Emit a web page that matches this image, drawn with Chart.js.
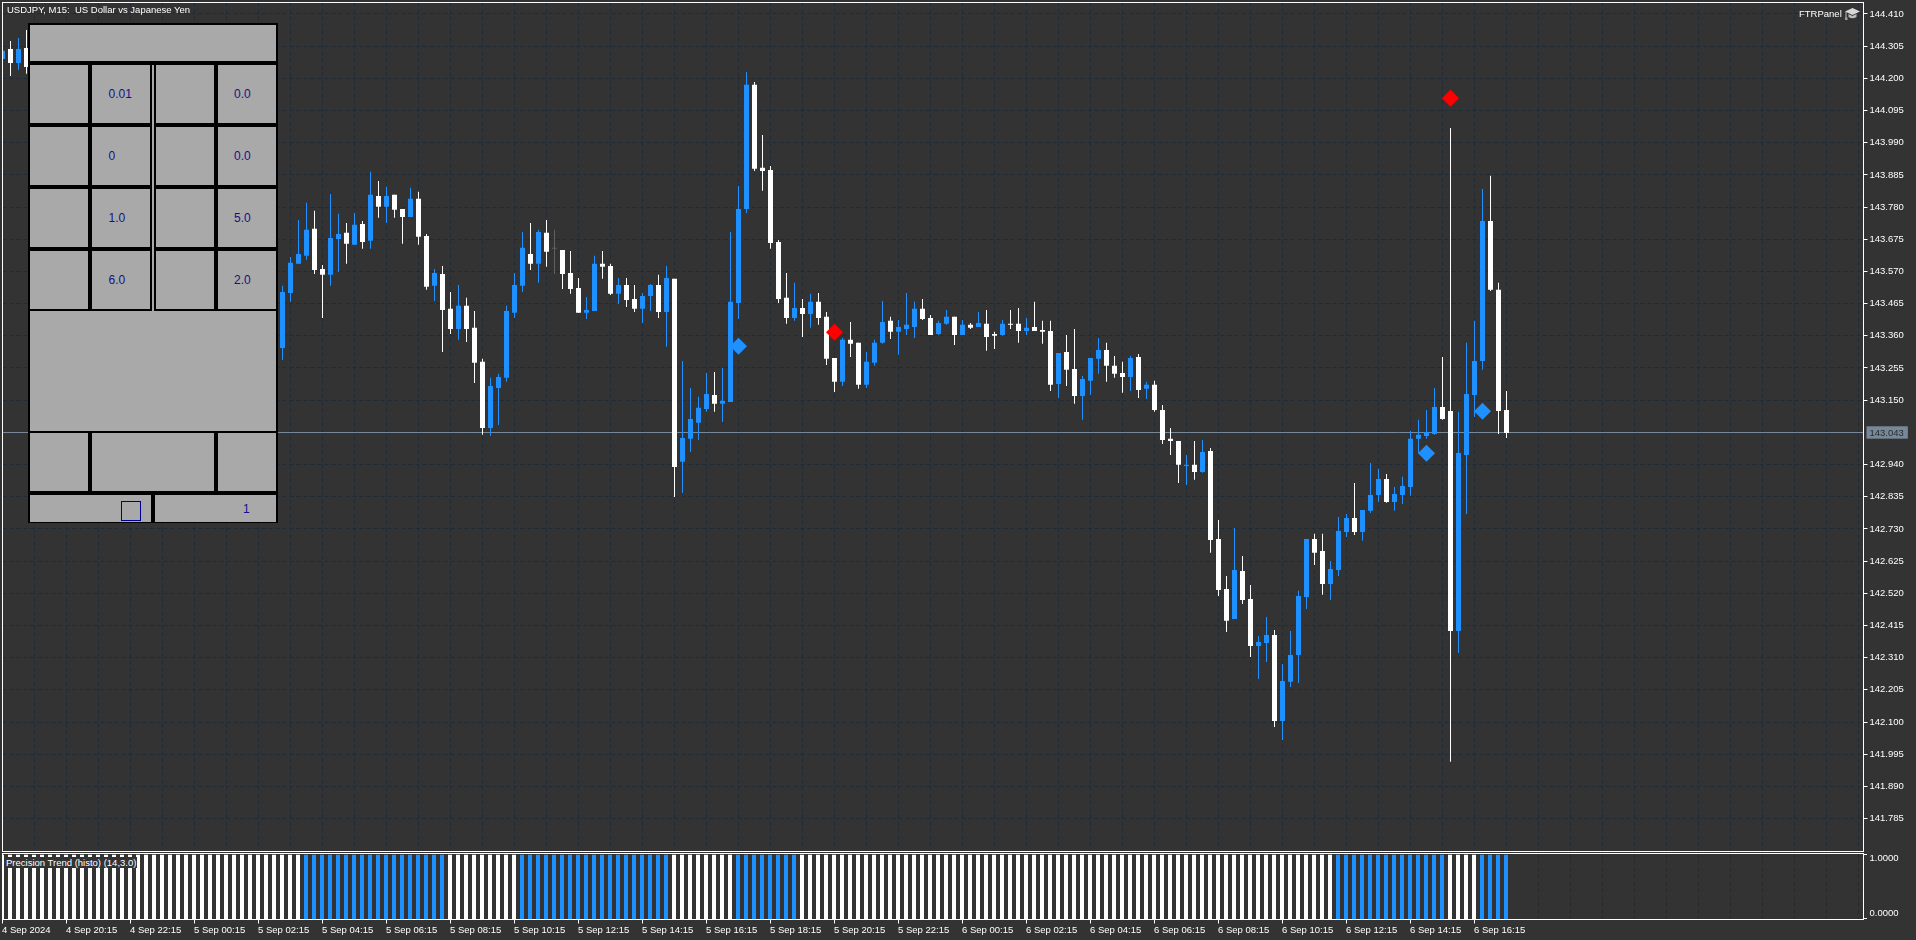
<!DOCTYPE html>
<html>
<head>
<meta charset="utf-8">
<title>USDJPY, M15</title>
<style>
  html, body { margin: 0; padding: 0; background: #333333; width: 1916px; height: 940px; overflow: hidden; }
  canvas { position: absolute; left: 0; }
  #price-chart { top: 0; }
  #trend-chart { top: 852px; }
  .label { position: absolute; color: #fff; font: 9.5px 'Liberation Sans', sans-serif; white-space: pre; line-height: 11px; }
  #panel { position: absolute; left: 28px; top: 23px; width: 250px; height: 500px; background: #000; }
  #panel div { position: absolute; background: #a9a9a9; }
  #panel span { position: absolute; color: #14108a; font: 12px 'Liberation Sans', sans-serif; line-height: 14px; }
  #panel .check { background: none; border: 1px solid #000090; box-sizing: border-box; }
</style>
</head>
<body>
<canvas id="price-chart" width="1916" height="852"></canvas>
<canvas id="trend-chart" width="1916" height="88"></canvas>

<div class="label" style="left:7px;top:4px">USDJPY, M15:  US Dollar vs Japanese Yen</div>
<div class="label" style="left:1799px;top:8px">FTRPanel</div>
<svg style="position:absolute;left:1845px;top:8px" width="15" height="12" viewBox="0 0 15 12">
  <path d="M7.5 0 L15 3.5 L7.5 7 L0 3.5 Z" fill="#d8d8d8"/>
  <path d="M3.5 6 L3.5 9 Q7.5 11.5 11.5 9 L11.5 6 L7.5 8 Z" fill="#bdbdbd"/>
  <rect x="0.5" y="4" width="1" height="6" fill="#bdbdbd"/>
  <rect x="0" y="9.5" width="2.5" height="2.5" fill="#a0a0a0"/>
</svg>
<div class="label" style="left:4px;top:857px;padding:0 1px 0 2px;background:#333333">Precision Trend (histo) (14,3.0)</div>

<div id="panel"></div>

<script src="https://cdn.jsdelivr.net/npm/chart.js@4/dist/chart.umd.min.js"></script>
<script>
'use strict';

// ──────────────────────────────────────────────────────────────
//  Data. Bars 4-34 sit behind the panel.
// ──────────────────────────────────────────────────────────────
const opens = [
  144.263,144.296,144.250,144.299,
  null,null,null,null,null,null,null,null,null,null,null,null,null,null,null,null,
  null,null,null,null,null,null,null,null,null,null,null,null,null,null,null,
  143.320,143.500,143.595,143.621,143.709,143.578,143.559,143.676,143.696,143.657,
  143.725,143.670,143.816,143.781,143.820,143.774,143.748,143.807,143.686,143.523,
  143.562,143.448,143.382,143.458,143.386,143.275,143.059,143.190,143.223,143.435,
  143.523,143.627,143.595,143.696,143.644,143.640,143.565,143.516,143.435,143.441,
  143.595,143.588,143.497,143.526,143.480,143.448,143.490,143.526,143.438,143.546,
  142.949,143.024,143.076,143.121,143.167,143.138,143.144,143.467,143.774,144.179,
  143.908,143.901,143.666,143.484,143.418,143.451,143.431,143.471,143.422,143.288,
  143.210,143.347,143.337,143.200,143.272,143.337,143.409,143.373,143.382,143.389,
  143.448,143.418,143.366,143.399,143.422,143.363,143.396,143.389,143.399,143.366,
  143.363,143.399,143.399,143.376,143.389,143.379,143.376,143.203,143.307,143.252,
  143.164,143.213,143.285,143.314,143.262,143.239,143.226,143.291,143.187,143.200,
  143.118,143.024,143.017,142.935,142.939,142.916,142.984,142.697,142.534,142.436,
  142.593,142.501,142.348,142.358,142.384,142.103,142.231,142.319,142.508,142.697,
  142.658,142.550,142.596,142.720,142.766,142.720,142.789,142.841,142.893,142.818,
  142.841,142.867,143.024,143.033,143.040,143.128,143.115,142.397,142.971,143.167,
  143.278,143.735,143.510,143.118
];
const highs = [
  144.290,144.322,144.332,144.358,
  null,null,null,null,null,null,null,null,null,null,null,null,null,null,null,null,
  null,null,null,null,null,null,null,null,null,null,null,null,null,null,null,
  143.523,143.617,143.738,143.794,143.768,143.591,143.823,143.758,143.728,143.761,
  143.735,143.895,143.865,143.846,143.820,143.774,143.843,143.830,143.692,143.578,
  143.588,143.503,143.526,143.484,143.441,143.285,143.223,143.236,143.458,143.565,
  143.699,143.728,143.706,143.738,143.706,143.640,143.637,143.549,143.487,143.621,
  143.637,143.595,143.549,143.549,143.526,143.500,143.529,143.559,143.588,143.546,
  143.278,143.190,143.161,143.239,143.242,143.255,143.699,143.849,144.221,144.188,
  144.015,143.914,143.673,143.565,143.533,143.480,143.497,143.500,143.438,143.288,
  143.353,143.405,143.337,143.307,143.347,143.474,143.422,143.412,143.500,143.471,
  143.480,143.428,143.409,143.444,143.422,143.412,143.402,143.438,143.444,143.373,
  143.412,143.444,143.451,143.418,143.471,143.409,143.409,143.304,143.363,143.382,
  143.229,143.288,143.353,143.337,143.294,143.275,143.294,143.301,143.210,143.213,
  143.134,143.059,143.017,142.971,143.017,143.020,142.994,142.759,142.576,142.733,
  142.642,142.547,142.381,142.443,142.400,142.289,142.397,142.528,142.697,142.714,
  142.714,142.625,142.769,142.779,142.880,142.792,142.945,142.926,142.909,142.867,
  142.900,143.050,143.086,143.118,143.190,143.291,144.038,143.112,143.337,143.409,
  143.839,143.882,143.533,143.180
];
const lows = [
  144.263,144.208,144.228,144.215,
  null,null,null,null,null,null,null,null,null,null,null,null,null,null,null,null,
  null,null,null,null,null,null,null,null,null,null,null,null,null,null,null,
  143.281,143.471,143.595,143.608,143.562,143.418,143.523,143.568,143.595,143.657,
  143.644,143.644,143.745,143.728,143.745,143.660,143.748,143.657,143.510,143.474,
  143.307,143.366,143.347,143.340,143.206,143.037,143.033,143.069,143.210,143.418,
  143.503,143.575,143.533,143.585,143.562,143.513,143.497,143.435,143.415,143.441,
  143.546,143.493,143.464,143.454,143.438,143.402,143.441,143.418,143.324,142.834,
  142.847,142.981,143.020,143.112,143.112,143.079,143.144,143.415,143.761,143.898,
  143.833,143.644,143.467,143.399,143.409,143.356,143.386,143.396,143.265,143.177,
  143.196,143.291,143.187,143.190,143.262,143.334,143.350,143.298,143.363,143.353,
  143.412,143.363,143.363,143.396,143.330,143.363,143.382,143.389,143.311,143.317,
  143.360,143.382,143.337,143.363,143.376,143.334,143.180,143.157,143.196,143.138,
  143.086,143.167,143.236,143.210,143.223,143.174,143.180,143.157,143.154,143.112,
  143.007,142.971,142.880,142.873,142.890,142.913,142.652,142.511,142.394,142.436,
  142.485,142.312,142.240,142.296,142.084,142.041,142.214,142.227,142.469,142.612,
  142.515,142.498,142.576,142.704,142.710,142.691,142.782,142.818,142.815,142.789,
  142.811,142.838,142.978,143.024,143.037,143.086,141.970,142.325,142.779,143.095,
  143.249,143.506,143.040,143.027
];
const closes = [
  144.290,144.250,144.296,144.237,
  null,null,null,null,null,null,null,null,null,null,null,null,null,null,null,null,
  null,null,null,null,null,null,null,null,null,null,null,null,null,null,null,
  143.503,143.598,143.627,143.706,143.575,143.559,143.679,143.692,143.660,143.722,
  143.666,143.820,143.781,143.816,143.771,143.748,143.807,143.683,143.520,143.565,
  143.444,143.382,143.458,143.382,143.272,143.059,143.196,143.226,143.441,143.526,
  143.647,143.595,143.699,143.634,143.644,143.562,143.513,143.435,143.444,143.595,
  143.585,143.497,143.526,143.477,143.448,143.490,143.526,143.438,143.549,142.932,
  143.027,143.089,143.125,143.170,143.138,143.148,143.471,143.774,144.179,143.905,
  143.898,143.663,143.480,143.418,143.451,143.431,143.471,143.418,143.285,143.210,
  143.347,143.334,143.200,143.275,143.337,143.405,143.373,143.389,143.396,143.448,
  143.415,143.363,143.402,143.422,143.363,143.396,143.386,143.402,143.356,143.360,
  143.399,143.396,143.376,143.386,143.376,143.373,143.200,143.304,143.249,143.164,
  143.219,143.288,143.314,143.262,143.236,143.226,143.288,143.183,143.200,143.118,
  143.020,143.017,142.939,142.939,142.916,142.981,142.694,142.531,142.430,142.596,
  142.498,142.348,142.361,142.384,142.103,142.234,142.319,142.511,142.697,142.652,
  142.550,142.599,142.723,142.766,142.720,142.792,142.841,142.893,142.818,142.844,
  142.870,143.024,143.037,143.046,143.128,143.089,142.397,142.978,143.170,143.278,
  143.735,143.510,143.115,143.043
];

// Precision Trend histogram: 0 = white bar, 1 = blue bar, every bar full height
const trendDirection = [
  0,0,0,0,0,0,0,0,0,0,0,0,0,0,0,0,0,0,0,0,0,0,0,0,0,0,0,0,0,0,0,0,0,0,0,0,0,0,
  1,1,1,1,1,1,1,1,1,1,1,1,1,1,1,1,1,1,
  0,0,0,0,0,0,0,0,0,
  1,1,1,1,1,1,1,1,1,1,1,1,1,1,1,1,1,1,1,
  0,0,0,0,0,0,0,0,
  1,1,1,1,1,1,1,1,
  0,0,0,0,0,0,0,0,0,0,0,0,0,0,0,0,0,0,0,0,0,0,0,0,0,0,0,0,0,0,0,0,0,0,
  0,0,0,0,0,0,0,0,0,0,0,0,0,0,0,0,0,0,0,0,0,0,0,0,0,0,0,0,0,0,0,0,0,
  1,1,1,1,1,1,1,1,1,1,1,1,1,1,
  0,0,0,0,
  1,1,1,1
];

// Signal diamonds
const buySignalBars = [92, 178, 185];
const buySignalPrices = [143.326, 142.977, 143.114];
const sellSignalBars = [104, 181];
const sellSignalPrices = [143.372, 144.135];

const currentPrice = 143.043;

const priceTicks = [
  144.410,144.305,144.200,144.095,143.990,143.885,143.780,143.675,143.570,143.465,
  143.360,143.255,143.150,142.940,142.835,142.730,142.625,142.520,142.415,142.310,
  142.205,142.100,141.995,141.890,141.785
];
const trendTicks = [1, 0];
const timeLabels = [
  '4 Sep 2024','4 Sep 20:15','4 Sep 22:15',
  '5 Sep 00:15','5 Sep 02:15','5 Sep 04:15','5 Sep 06:15','5 Sep 08:15','5 Sep 10:15',
  '5 Sep 12:15','5 Sep 14:15','5 Sep 16:15','5 Sep 18:15','5 Sep 20:15','5 Sep 22:15',
  '6 Sep 00:15','6 Sep 02:15','6 Sep 04:15','6 Sep 06:15','6 Sep 08:15','6 Sep 10:15',
  '6 Sep 12:15','6 Sep 14:15','6 Sep 16:15'
];

// Styling constants
const BLUE = '#1E90FF';
const WHITE = '#FFFFFF';
const DOJI = '#5f5f5f';
const RED = '#FF0000';
const SLATE = '#778899';
const GRID_MAIN = '#1f2b36';
const GRID_TREND = '#292929';
const AXIS_FONT = { family: "'Liberation Sans', sans-serif", size: 9.5 };
const BARS_PER_GRID = 4;
const BARS_PER_LABEL = 8;
const VISIBLE_BARS = 232.625; // chart shift leaves empty room right of the last bar

function candleColor(i) {
  if (closes[i] > opens[i]) return BLUE;
  if (closes[i] < opens[i]) return WHITE;
  return DOJI;
}

const visibleBars = opens.map((v, i) => i).filter(i => opens[i] !== null);

// Axis labels must not push the plot inwards: panes line up to the pixel
function clearAxisPadding(scale) {
  scale.paddingTop = 0;
  scale.paddingBottom = 0;
  scale.paddingLeft = 0;
  scale.paddingRight = 0;
}

// White 1px outline round a pane, drawn above the bars
const paneFrame = {
  id: 'paneFrame',
  afterDatasetsDraw(chart) {
    const { ctx, chartArea: a } = chart;
    const left = Math.floor(a.left) + 0.5;
    const right = Math.floor(a.right) + 0.5;
    ctx.save();
    ctx.strokeStyle = WHITE;
    ctx.lineWidth = 1;
    ctx.strokeRect(left, a.top, right - left, a.bottom - a.top);
    ctx.restore();
  },
};

// The 1.0000 / 0.0000 labels sit inside their ticks, which scale ticks can't do
const trendLabels = {
  id: 'trendLabels',
  afterDraw(chart) {
    const { ctx, scales: { y } } = chart;
    ctx.save();
    ctx.fillStyle = WHITE;
    ctx.font = `${AXIS_FONT.size}px ${AXIS_FONT.family}`;
    ctx.textBaseline = 'middle';
    ctx.fillText((1).toFixed(4), 1869.5, y.getPixelForValue(1) + 3.5);
    ctx.fillText((0).toFixed(4), 1869.5, y.getPixelForValue(0) - 5);
    ctx.restore();
  },
};

// ──────────────────────────────────────────────────────────────
//  Price pane
// ──────────────────────────────────────────────────────────────
function renderPriceChart() {
  const isCurrent = ctx => ctx.tick && ctx.tick.value === currentPrice;

  new Chart(document.getElementById('price-chart'), {
    type: 'bar',
    data: {
      datasets: [
        {
          type: 'scatter',
          order: 0,
          data: buySignalBars.map((b, i) => ({ x: b, y: buySignalPrices[i] })),
          pointStyle: 'rectRot',
          pointRadius: 8.5,
          pointBorderWidth: 0,
          pointBackgroundColor: BLUE,
        },
        {
          type: 'scatter',
          order: 0,
          data: sellSignalBars.map((b, i) => ({ x: b, y: sellSignalPrices[i] })),
          pointStyle: 'rectRot',
          pointRadius: 8.5,
          pointBorderWidth: 0,
          pointBackgroundColor: RED,
        },
        {
          order: 1,
          data: visibleBars.map(i => ({ x: i, y: [opens[i], closes[i]] })),
          backgroundColor: visibleBars.map(candleColor),
          grouped: false,
          barPercentage: 1,
          categoryPercentage: 1,
          maxBarThickness: 5,
          minBarLength: 1,
          inflateAmount: 0,
        },
        {
          order: 2,
          data: visibleBars.map(i => ({ x: i, y: [lows[i], highs[i]] })),
          backgroundColor: visibleBars.map(candleColor),
          grouped: false,
          barPercentage: 1,
          categoryPercentage: 1,
          maxBarThickness: 1,
          inflateAmount: 0,
        },
      ],
    },
    options: {
      responsive: false,
      animation: false,
      devicePixelRatio: 1,
      events: [],
      layout: { autoPadding: false, padding: { left: 2.5, top: 2.5, right: 0, bottom: 0.5 } },
      plugins: { legend: { display: false }, tooltip: { enabled: false } },
      scales: {
        x: {
          type: 'linear',
          offset: false,
          min: 0,
          max: VISIBLE_BARS,
          afterFit: s => { s.height = 0; clearAxisPadding(s); },
          border: { display: false, dash: [4, 3] },
          grid: { offset: false, color: GRID_MAIN, drawTicks: false },
          ticks: { display: false, stepSize: BARS_PER_GRID, includeBounds: false, autoSkip: false },
        },
        y: {
          position: 'right',
          min: 141.6775,
          max: 144.4475,
          afterFit: s => { s.width = 52.5; clearAxisPadding(s); },
          afterBuildTicks: s => {
            s.ticks = [...priceTicks, currentPrice].sort((a, b) => b - a).map(value => ({ value }));
          },
          border: { display: false, dash: ctx => (isCurrent(ctx) ? [] : [4, 3]) },
          grid: {
            color: ctx => (isCurrent(ctx) ? SLATE : GRID_MAIN),
            tickColor: ctx => (isCurrent(ctx) ? 'transparent' : WHITE),
            tickLength: 4,
          },
          ticks: {
            font: AXIS_FONT,
            color: ctx => (isCurrent(ctx) ? '#2b2b2b' : WHITE),
            padding: 2,
            autoSkip: false,
            showLabelBackdrop: ctx => isCurrent(ctx),
            backdropColor: SLATE,
            backdropPadding: { top: 1, bottom: 0, left: 3, right: 4 },
            callback: v => v.toFixed(3),
          },
        },
      },
    },
    plugins: [paneFrame],
  });
}

// ──────────────────────────────────────────────────────────────
//  Precision Trend histogram pane
// ──────────────────────────────────────────────────────────────
function renderTrendChart() {
  const labelFor = v => (v % BARS_PER_LABEL === 0 ? timeLabels[v / BARS_PER_LABEL] || '' : '');

  new Chart(document.getElementById('trend-chart'), {
    type: 'bar',
    data: {
      datasets: [{
        data: trendDirection.map((d, i) => ({ x: i, y: 1 })),
        backgroundColor: trendDirection.map(d => (d ? BLUE : WHITE)),
        base: -0.02,
        grouped: false,
        barPercentage: 1,
        categoryPercentage: 1,
        maxBarThickness: 4,
        inflateAmount: 0,
      }],
    },
    options: {
      responsive: false,
      animation: false,
      devicePixelRatio: 1,
      events: [],
      layout: { autoPadding: false, padding: { left: 2, top: 1.5, right: 0, bottom: 0 } },
      plugins: { legend: { display: false }, tooltip: { enabled: false } },
      scales: {
        x: {
          type: 'linear',
          offset: false,
          min: 0,
          max: VISIBLE_BARS,
          afterFit: s => { s.height = 20.5; clearAxisPadding(s); },
          border: { display: false, dash: [4, 3] },
          grid: {
            offset: false,
            color: GRID_TREND,
            tickColor: ctx => (labelFor(ctx.tick.value) ? WHITE : 'transparent'),
            tickLength: 4,
          },
          ticks: {
            font: AXIS_FONT,
            color: WHITE,
            align: 'start',
            padding: 1,
            maxRotation: 0,
            stepSize: BARS_PER_GRID,
            includeBounds: false,
            autoSkip: false,
            callback: labelFor,
          },
        },
        y: {
          position: 'right',
          min: -0.02,
          max: 1.02,
          afterFit: s => { s.width = 53; clearAxisPadding(s); },
          afterBuildTicks: s => { s.ticks = trendTicks.map(value => ({ value })); },
          border: { display: false },
          grid: { drawOnChartArea: false, tickColor: WHITE, tickLength: 4 },
          ticks: { display: false },
        },
      },
    },
    plugins: [paneFrame, trendLabels],
  });
}

// ──────────────────────────────────────────────────────────────
//  Trade panel overlay (grey cells on black, page coordinates)
// ──────────────────────────────────────────────────────────────
function renderPanel() {
  const panel = document.getElementById('panel');
  const addCell = (l, t, r, b, cls) => {
    const el = document.createElement('div');
    el.style.cssText = `left:${l - 28}px;top:${t - 23}px;width:${r - l}px;height:${b - t}px`;
    if (cls) el.className = cls;
    panel.appendChild(el);
  };
  const addText = (text, l, cy) => {
    const el = document.createElement('span');
    el.textContent = text;
    el.style.cssText = `left:${l - 28}px;top:${cy - 7 - 23}px`;
    panel.appendChild(el);
  };

  addCell(30, 25, 276, 61);
  [[65, 123], [127, 185], [189, 247], [251, 309]].forEach(([t, b]) => {
    [[30, 88], [92, 150], [156, 214], [218, 276]].forEach(([l, r]) => addCell(l, t, r, b));
  });
  addCell(152, 65, 154, 311);
  addCell(30, 311, 276, 431);
  addCell(30, 433, 88, 491);
  addCell(92, 433, 214, 491);
  addCell(218, 433, 276, 491);
  addCell(30, 495, 151, 522);
  addCell(155, 495, 276, 522);
  addCell(121, 501, 141, 521, 'check');

  addText('0.01', 108.5, 94);
  addText('0.0', 234, 94);
  addText('0', 108.5, 156);
  addText('0.0', 234, 156);
  addText('1.0', 108.5, 218);
  addText('5.0', 234, 218);
  addText('6.0', 108.5, 280);
  addText('2.0', 234, 280);
  addText('1', 243, 509);
}

renderPriceChart();
renderTrendChart();
renderPanel();
</script>
</body>
</html>
